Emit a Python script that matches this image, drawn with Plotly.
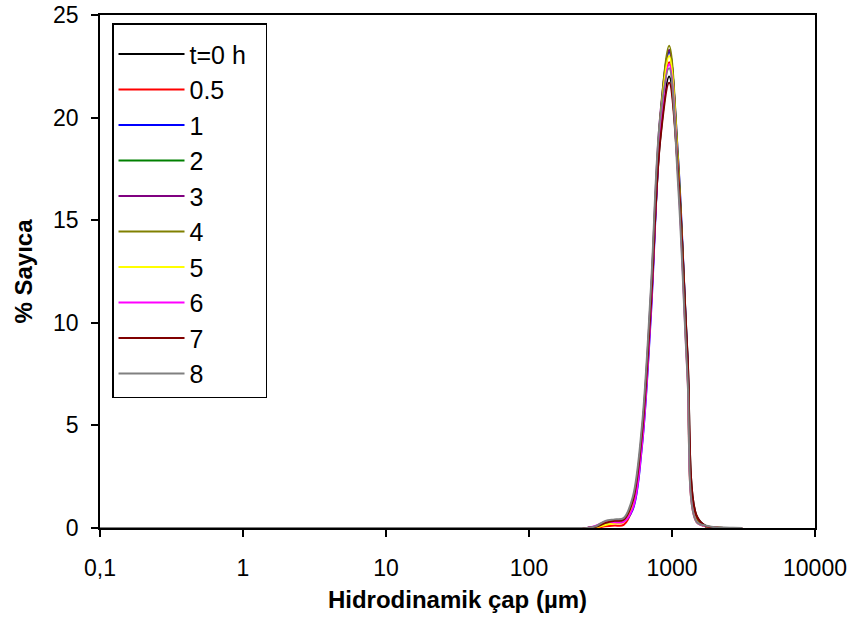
import plotly.graph_objects as go

# Hydrodynamic size bins (µm as labelled)
sizes = [0.1, 0.2, 0.5, 1, 2, 5, 10, 20, 50, 100, 141.8, 190.1, 220.2,
         255.0, 295.3, 342.0, 396.1, 458.7, 531.2, 615.1, 712.4, 825.0,
         955.4, 1106, 1281, 1484, 1718, 1990, 2305, 2669, 3091]

zeros = [0] * 13

s_t0 = zeros + [0, 0.05, 0.22, 0.30, 0.35, 1.2, 4.3, 10.8, 18.9, 22.0, 17.3, 8.6, 0.6, 0.10, 0.03, 0, 0, 0]
s_05 = zeros + [0, 0.02, 0.08, 0.12, 0.15, 1.0, 4.3, 11.0, 19.4, 22.7, 17.2, 8.1, 0.45, 0.08, 0.02, 0, 0, 0]
s_1 = zeros + [0, 0.05, 0.20, 0.28, 0.32, 0.9, 3.9, 10.4, 19.3, 23.2, 17.9, 8.3, 0.4, 0.08, 0.02, 0, 0, 0]
s_2 = zeros + [0, 0.08, 0.28, 0.35, 0.40, 1.3, 4.5, 11.2, 19.8, 23.3, 17.5, 7.9, 0.35, 0.08, 0.02, 0, 0, 0]
s_3 = zeros + [0, 0.07, 0.25, 0.32, 0.38, 1.3, 4.6, 11.4, 20.0, 23.3, 17.3, 7.8, 0.35, 0.08, 0.02, 0, 0, 0]
s_4 = zeros + [0, 0.06, 0.24, 0.32, 0.36, 1.2, 4.4, 11.1, 19.8, 23.5, 17.8, 8.1, 0.4, 0.08, 0.02, 0, 0, 0]
s_5 = zeros + [0, 0.04, 0.15, 0.22, 0.28, 1.1, 4.3, 11.0, 19.6, 23.0, 17.3, 7.7, 0.3, 0.10, 0.02, 0, 0, 0]
s_6 = zeros + [0, 0.12, 0.30, 0.28, 0.30, 0.95, 4.0, 10.6, 19.2, 22.6, 17.0, 7.6, 0.3, 0.10, 0.03, 0, 0, 0]
s_7 = zeros + [0, 0.06, 0.25, 0.35, 0.40, 1.3, 4.5, 10.9, 18.8, 21.7, 17.2, 8.5, 0.6, 0.10, 0.03, 0, 0, 0]
s_8 = zeros + [0, 0.10, 0.35, 0.42, 0.48, 1.5, 4.9, 11.7, 19.9, 22.4, 16.6, 7.5, 0.3, 0.12, 0.04, 0.02, 0.01, 0]

names = ["t=0 h", "0.5", "1", "2", "3", "4", "5", "6", "7", "8"]
series = [s_t0, s_05, s_1, s_2, s_3, s_4, s_5, s_6, s_7, s_8]
colors = ["#000000", "#FF0000", "#0000FF", "#008000", "#800080",
          "#808000", "#FFFF00", "#FF00FF", "#800000", "#808080"]

x_tickvals = [0.1, 1, 10, 100, 1000, 10000]
x_ticktext = ["0,1", "1", "10", "100", "1000", "10000"]
y_tickvals = [0, 5, 10, 15, 20, 25]

fig = go.Figure()
for i, (name, ys, c) in enumerate(zip(names, series, colors)):
    # trailing non-breaking spaces on the first entry only widen the legend box
    label = name + ("\u00a0\u00a0" if i == 0 else "")
    fig.add_trace(go.Scatter(
        x=sizes, y=ys, name=label, mode="lines", legendgroup=name,
        line=dict(color=c, width=2, shape="spline", smoothing=1.0),
    ))

font_family = "Liberation Sans, Arial, sans-serif"

fig.update_layout(
    width=854, height=617,
    margin=dict(l=100, r=39, t=15, b=89, autoexpand=False),
    paper_bgcolor="white", plot_bgcolor="white",
    font=dict(family=font_family, size=23, color="black"),
    showlegend=True,
    legend=dict(
        x=0.0168, y=0.984, xanchor="left", yanchor="top",
        bgcolor="white", bordercolor="black", borderwidth=1.5,
        font=dict(family=font_family, size=25, color="black"),
        traceorder="grouped", tracegroupgap=0, itemwidth=66,
        title=dict(text=" ", font=dict(size=5)),
    ),
    xaxis=dict(
        type="log", range=[-1, 4], automargin=False,
        tickvals=x_tickvals, ticktext=x_ticktext,
        ticks="outside", ticklen=7, tickwidth=1.5, tickcolor="black",
        showline=True, linecolor="black", linewidth=1.5, mirror=True,
        showgrid=False, zeroline=False,
        ticklabelstandoff=12,
        tickfont=dict(size=23),
        title=dict(text="<b>Hidrodinamik çap (µm)</b>", font=dict(size=24), standoff=11),
    ),
    yaxis=dict(
        range=[0, 25], tickvals=y_tickvals, automargin=False,
        ticks="outside", ticklen=7, tickwidth=1.5, tickcolor="black",
        showline=True, linecolor="black", linewidth=1.5, mirror=True,
        showgrid=False, zeroline=False,
        ticklabelstandoff=8,
        tickfont=dict(size=23),
        title=dict(text="<b>% Sayıca</b>", font=dict(size=24), standoff=14),
    ),
)

fig.write_html("out.html")
